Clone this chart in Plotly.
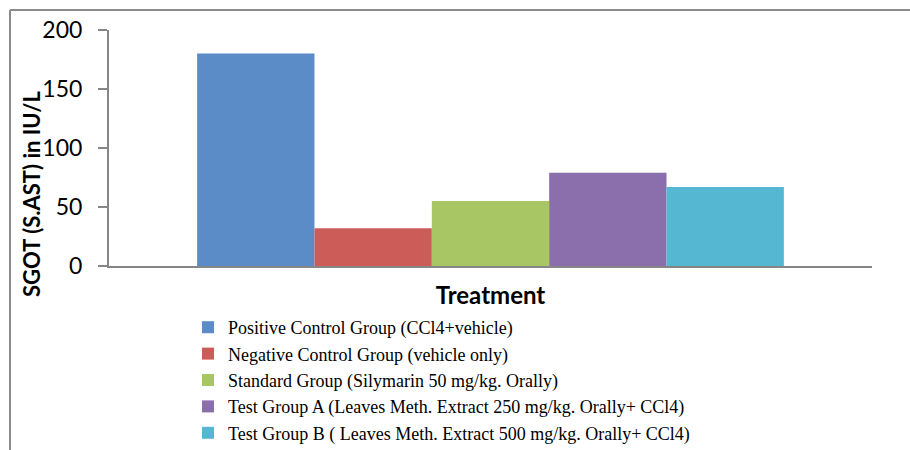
import plotly.graph_objects as go

groups = [
    "Positive Control Group (CCl4+vehicle)",
    "Negative Control Group (vehicle only)",
    "Standard Group (Silymarin 50 mg/kg. Orally)",
    "Test Group A (Leaves Meth. Extract 250 mg/kg. Orally+ CCl4)",
    "Test Group B ( Leaves Meth. Extract 500 mg/kg. Orally+ CCl4)",
]
sgot_values = [180, 32, 55, 79, 67]
colors = ["#5B8CC8", "#CC5C58", "#A8C664", "#8B6EAC", "#56B7D2"]
category = [""]
y_ticks = [0, 50, 100, 150, 200]

W, H = 910, 450
L, R, T, B = 109, 38, 30, 184
pw, ph = W - L - R, H - T - B

def px_x(p):
    return (p - L) / pw

def px_y(p):
    return (H - B - p) / ph

fig = go.Figure()
for i, (name, val, col) in enumerate(zip(groups, sgot_values, colors)):
    fig.add_trace(go.Bar(
        x=category, y=[val], name=name,
        marker=dict(color=col, line=dict(width=0)),
        legendgroup=f"g{i}",
    ))

axis_col = "#868686"
fig.update_layout(
    width=W, height=H,
    margin=dict(l=L, r=R, t=T, b=B, autoexpand=False),
    paper_bgcolor="white", plot_bgcolor="white",
    barmode="group", bargap=0.231, bargroupgap=0,
    font=dict(family="Lato", color="black"),
    showlegend=True,
    legend=dict(
        x=px_x(188), xanchor="left",
        yref="container", y=1 - 309 / H, yanchor="top",
        font=dict(family="Liberation Serif", size=18, color="black"),
        tracegroupgap=0, bgcolor="rgba(0,0,0,0)",
    ),
    xaxis=dict(
        automargin=False,
        showticklabels=False, ticks="", showgrid=False,
        showline=True, linecolor=axis_col, linewidth=2,
        title=dict(text="<b>Treatment</b>", font=dict(family="Lato", size=24), standoff=20),
        zeroline=False,
    ),
    yaxis=dict(
        automargin=False,
        range=[0, 200], tickvals=y_ticks, showgrid=False,
        showline=True, linecolor=axis_col, linewidth=2,
        ticks="outside", ticklen=9, tickwidth=2, tickcolor=axis_col,
        tickfont=dict(family="Lato", size=23), ticklabelstandoff=11,
        zeroline=False,
    ),
    annotations=[dict(
        text="<b>SGOT (S.AST) in IU/L</b>", textangle=-90,
        xref="paper", yref="paper", x=px_x(32), y=px_y(194),
        xanchor="center", yanchor="middle", showarrow=False,
        font=dict(family="Lato", size=22, color="black"),
    )],
    shapes=[
        dict(type="line", xref="paper", yref="paper",
             x0=px_x(10), x1=px_x(912), y0=px_y(10), y1=px_y(10),
             line=dict(color="#8c8c8c", width=2)),
        dict(type="line", xref="paper", yref="paper",
             x0=px_x(10), x1=px_x(10), y0=px_y(10), y1=px_y(452),
             line=dict(color="#8c8c8c", width=2)),
    ],
)

fig.write_html("out.html", config={"displayModeBar": False},
               post_script="document.body.style.margin='0';")
